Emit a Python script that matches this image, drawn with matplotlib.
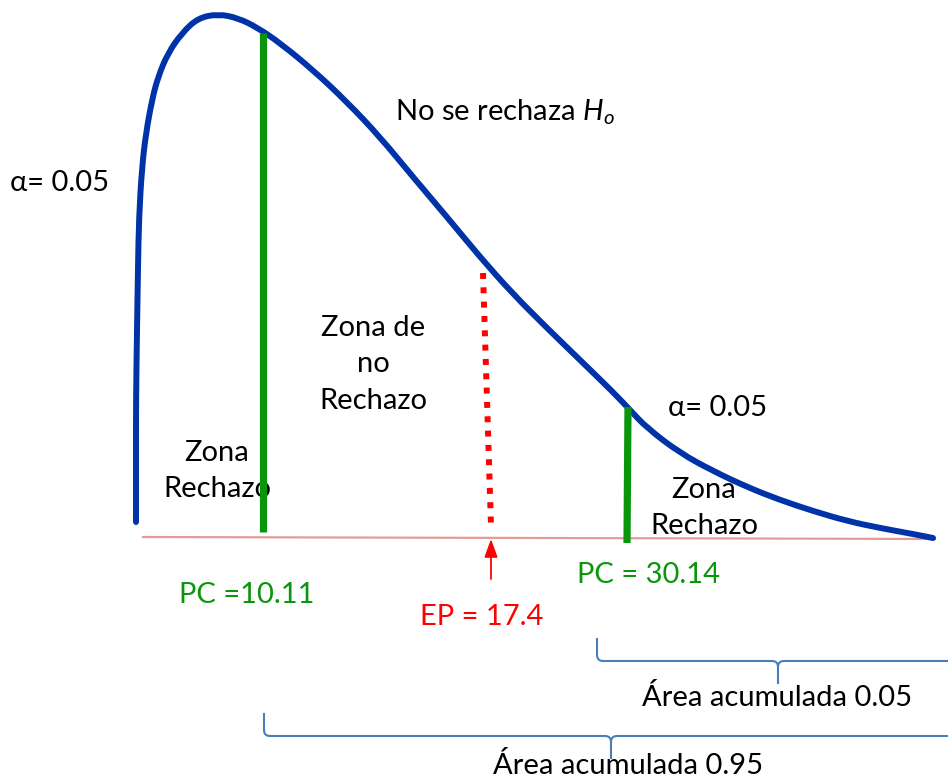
import numpy as np
import matplotlib
matplotlib.use("Agg")
import matplotlib.pyplot as plt
from matplotlib.path import Path
from matplotlib.patches import PathPatch

plt.rcParams['font.family'] = ['Lato', 'DejaVu Sans']
plt.rcParams['mathtext.fontset'] = 'custom'
plt.rcParams['mathtext.rm'] = 'Lato'
plt.rcParams['mathtext.it'] = 'Lato:italic'

# curva (coordenadas del lienzo)
curva_x = [136, 136, 136, 137, 138, 139, 142, 146, 152, 158, 168, 182, 198, 218, 238, 258,
           280, 313, 347, 380, 413, 447, 480, 513, 547, 580, 613, 630, 647, 680, 713,
           747, 780, 813, 847, 880, 913, 933]
curva_y = [522, 460, 400, 330, 267, 217, 167, 133, 100, 77, 53, 33, 18, 14, 18, 28,
           43, 70, 102, 137, 177, 217, 257, 294, 328, 360, 392, 410, 428, 453, 471,
           487, 500, 511, 521, 528, 534, 538]

# eje horizontal
eje_x = [143, 935]
eje_y = [537, 539]

# puntos criticos y estadistico de prueba
pc_izq_x = [263, 263]
pc_izq_y = [33, 532]
pc_der_x = [628, 627]
pc_der_y = [407, 543]
ep_x = [483, 491]
ep_y = [273, 526]

etiquetas = ["PC =10.11", "EP = 17.4", "PC = 30.14"]

# llaves de area acumulada: inicio, fin, altura
llaves = [(597, 959, 638), (264, 958, 713)]
textos_area = ["Área acumulada 0.05", "Área acumulada 0.95"]

fig = plt.figure(figsize=(9.48, 7.79), dpi=100)
ax = fig.add_axes([0, 0, 1, 1])
ax.set_xlim(0, 948)
ax.set_ylim(779, 0)
ax.axis('off')

ax.plot(eje_x, eje_y, color='#e59a9a', lw=1.6, zorder=1)

# curva suavizada: los puntos leidos hacen de control de tramos cuadraticos
pts = list(zip(curva_x, curva_y))
verts = [pts[0]]
codes = [Path.MOVETO]
for i in range(1, len(pts) - 1):
    medio = ((pts[i][0] + pts[i + 1][0]) / 2, (pts[i][1] + pts[i + 1][1]) / 2)
    verts += [pts[i], medio]
    codes += [Path.CURVE3, Path.CURVE3]
verts.append(pts[-1])
codes.append(Path.LINETO)
ax.add_patch(PathPatch(Path(verts, codes), fill=False, edgecolor='#0033a8', lw=4.3,
                       capstyle='round', joinstyle='round', zorder=3))

ax.plot(pc_izq_x, pc_izq_y, color='#0a960a', lw=5.2, solid_capstyle='butt', zorder=4)
ax.plot(pc_der_x, pc_der_y, color='#0a960a', lw=5.2, solid_capstyle='butt', zorder=4)
ax.plot(ep_x, ep_y, color='#ff0000', lw=4.3, dashes=(1.0, 1.4),
        dash_capstyle='butt', zorder=2)
ax.annotate('', xy=(ep_x[1], 539), xytext=(ep_x[1], 579),
            arrowprops=dict(arrowstyle='-|>,head_length=1.1,head_width=0.4',
                            color='#ff0000', lw=1.3, shrinkA=0, shrinkB=0))

fs = 21
ax.text(10, 183, "α= 0.05", fontsize=fs, ha='left', va='center')
ax.text(395, 112, "No se rechaza $H_o$", fontsize=fs, ha='left', va='center')
ax.text(373, 364, "Zona de\nno\nRechazo", fontsize=fs, ha='center', va='center',
        linespacing=1.5)
ax.text(217, 471, "Zona\nRechazo", fontsize=fs, ha='center', va='center',
        linespacing=1.5)
ax.text(668, 408, "α= 0.05", fontsize=fs, ha='left', va='center')
ax.text(704, 508, "Zona\nRechazo", fontsize=fs, ha='center', va='center',
        linespacing=1.5)
ax.text(179, 595, etiquetas[0], fontsize=fs, color='#0a960a', ha='left', va='center')
ax.text(420, 617, etiquetas[1], fontsize=fs, color='#ff0000', ha='left', va='center')
ax.text(577, 575, etiquetas[2], fontsize=fs, color='#0a960a', ha='left', va='center')


def llave(x0, x1, y0, alto=23, pico=23, r=6):
    xm = (x0 + x1) / 2
    yb = y0 + alto
    verts = [(x0, y0), (x0, yb - r), (x0, yb), (x0 + r, yb),
             (xm - r, yb), (xm, yb), (xm, yb + r), (xm, yb + pico),
             (xm, yb + r), (xm, yb), (xm + r, yb),
             (x1 - r, yb), (x1, yb), (x1, yb - r), (x1, y0)]
    codes = [Path.MOVETO, Path.LINETO, Path.CURVE3, Path.CURVE3,
             Path.LINETO, Path.CURVE3, Path.CURVE3, Path.LINETO,
             Path.MOVETO, Path.CURVE3, Path.CURVE3,
             Path.LINETO, Path.CURVE3, Path.CURVE3, Path.LINETO]
    ax.add_patch(PathPatch(Path(verts, codes), fill=False, edgecolor='#4a7ebb', lw=1.5))


for (a, b, y), t, ty, tx in zip(llaves, textos_area, [698, 766], [777, 628]):
    llave(a, b, y)
    ax.text(tx, ty, t, fontsize=fs, ha='center', va='center')

fig.savefig("out.png", dpi=100)
